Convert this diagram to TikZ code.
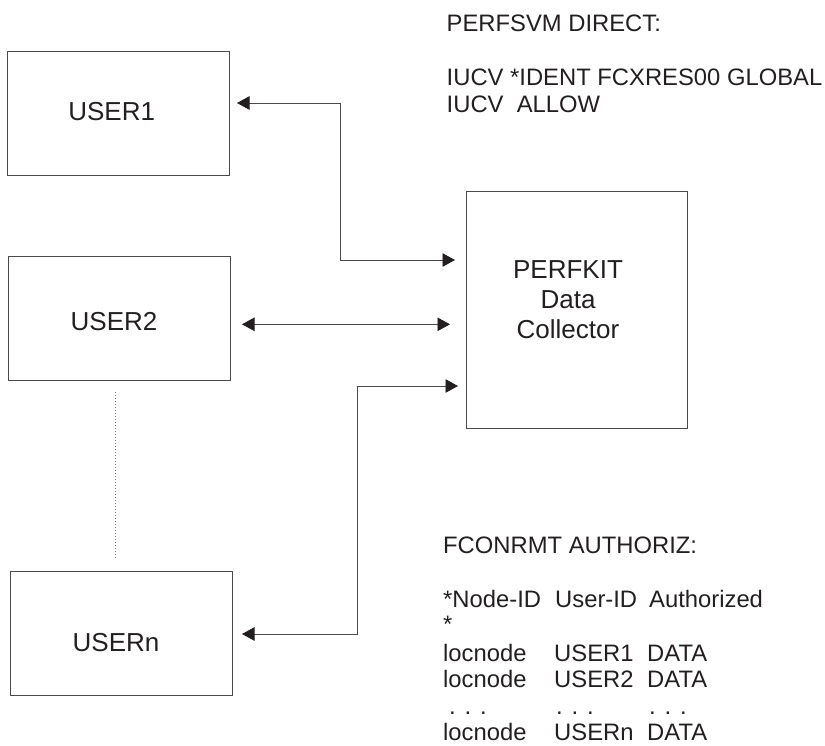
\documentclass[tikz,border=0pt]{standalone}
\usepackage{fontspec}
\setmainfont{Liberation Sans}
\usetikzlibrary{arrows.meta}
\definecolor{ink}{HTML}{231F20}
\definecolor{rule}{HTML}{4A4A4A}
\tikzset{
 box/.style={draw=rule,line width=0.9pt,fill=white,inner sep=0pt,anchor=north west},
 boxtext/.style={anchor=base,inner sep=0pt,text=ink,font=\fontsize{26}{30}\selectfont,align=center},
 link/.style={draw=rule,line width=0.9pt,{Triangle[length=12.5pt,width=13.5pt,color=ink]}-{Triangle[length=12.5pt,width=13.5pt,color=ink]}},
 note/.style={anchor=base west,inner sep=0pt,text=ink,font=\fontsize{23.8}{26}\selectfont}
}
\begin{document}
\begin{tikzpicture}[x=1pt,y=-1pt]
\useasboundingbox (0,0) rectangle (825,745);
\node[box,minimum width=222.3,minimum height=124] (u1) at (6.7,51) {};
\node[box,minimum width=222,minimum height=124.3] (u2) at (8.3,255.7) {};
\node[box,minimum width=222,minimum height=124] (un) at (10,571) {};
\node[box,minimum width=221.6,minimum height=236.7] (pk) at (465.7,191) {};
\node[boxtext] (u1t) at (111.7,120) {USER1};
\node[boxtext] (u2t) at (114,330) {USER2};
\node[boxtext] (unt) at (116,651) {USERn};
\node[boxtext,anchor=center] (pkt) at (568,299.7) {PERFKIT\\Data\\Collector};
\coordinate (a1) at (237,103);
\coordinate (a2) at (242,324.3);
\coordinate (a3) at (242,634);
\coordinate (b1) at (455,260);
\coordinate (b2) at (450,324.3);
\coordinate (b3) at (458,386);
\draw[link] (a1) -| (340,260) -- (b1);
\draw[link] (a2) -- (b2);
\draw[link] (a3) -| (357.5,386) -- (b3);
\coordinate (d1) at (115.7,392);
\coordinate (d2) at (115.7,558);
\draw[line width=0.6pt,gray,dash pattern=on 1pt off 2pt] (d1) -- (d2);
\node[note] (t1) at (446.5,31) {PERFSVM DIRECT:};
\node[note] (t2) at (446.5,85) {IUCV *IDENT FCXRES00 GLOBAL};
\node[note] (t3) at (446.5,112) {IUCV\ \ ALLOW};
\node[note] (t4) at (443,553) {FCONRMT AUTHORIZ:};
\node[note] (t5a) at (443,607) {*Node-ID};
\node[note] (t5b) at (555,607) {User-ID};
\node[note] (t5c) at (649,607) {Authorized};
\node[note] (t6) at (443,632) {*};
\node[note] (r1a) at (443,661) {locnode};
\node[note] (r1b) at (554,661) {USER1};
\node[note] (r1c) at (647,661) {DATA};
\node[note] (r2a) at (443,687) {locnode};
\node[note] (r2b) at (554,687) {USER2};
\node[note] (r2c) at (647,687) {DATA};
\node[note] (r3a) at (449,714) {. . .};
\node[note] (r3b) at (556,714) {. . .};
\node[note] (r3c) at (649,714) {. . .};
\node[note] (r4a) at (443,740) {locnode};
\node[note] (r4b) at (554,740) {USERn};
\node[note] (r4c) at (647,740) {DATA};
\end{tikzpicture}
\end{document}
